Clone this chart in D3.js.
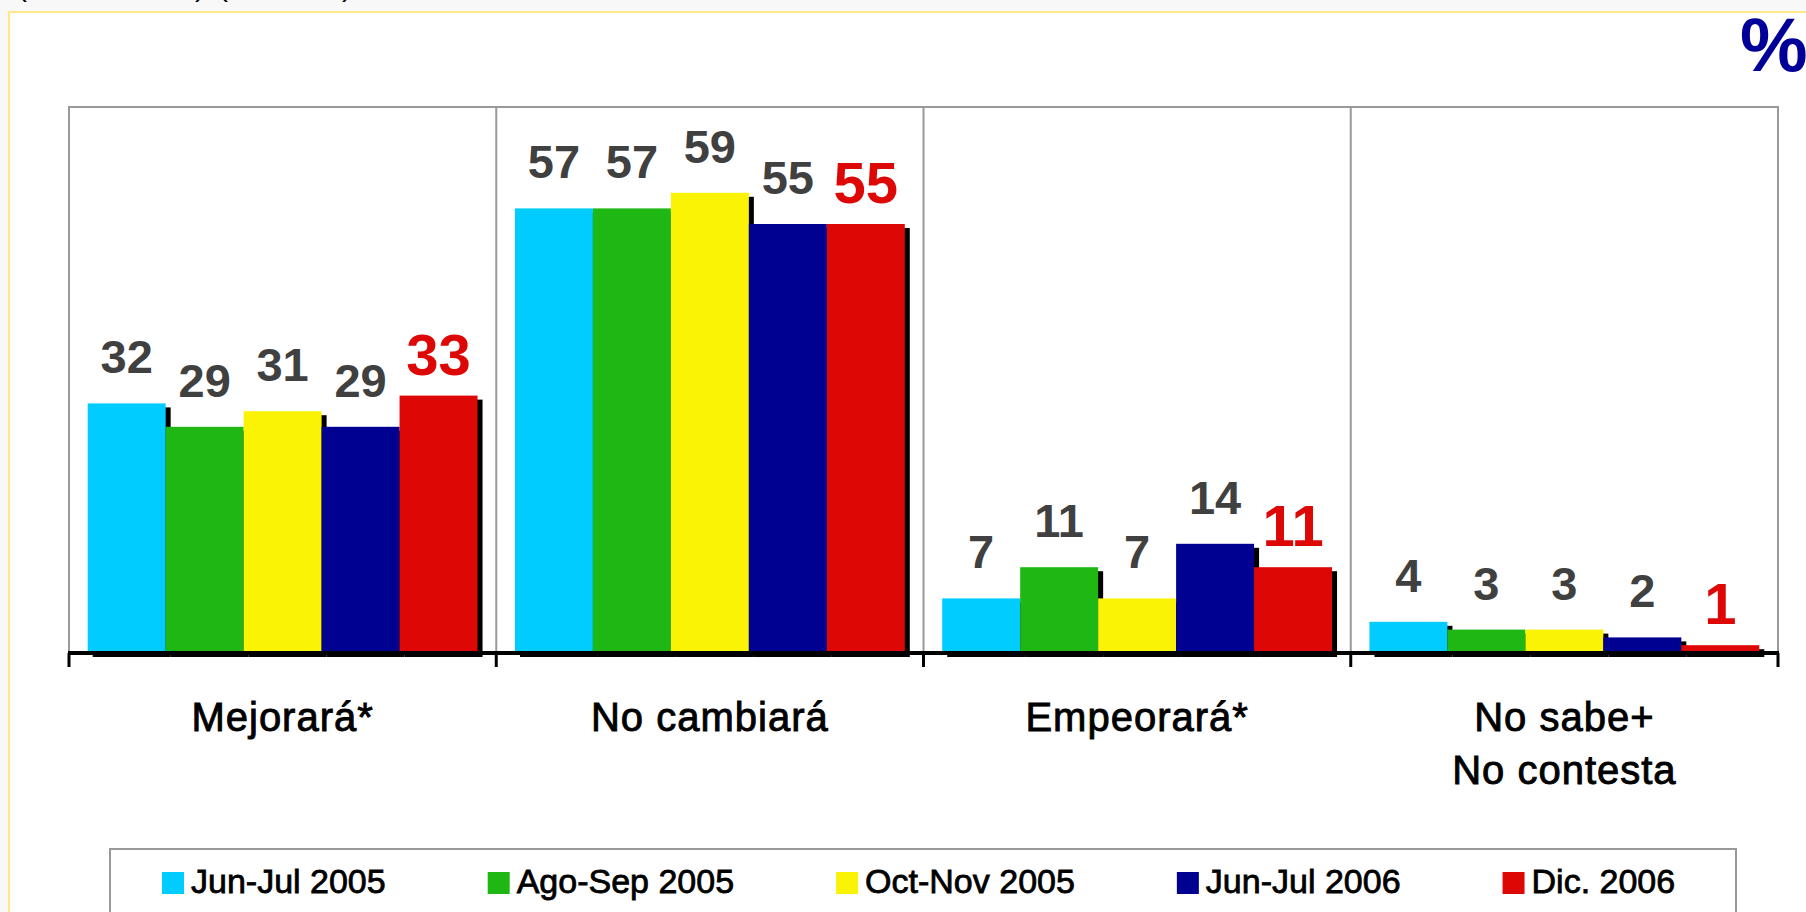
<!DOCTYPE html>
<html>
<head>
<meta charset="utf-8">
<script src="https://cdn.jsdelivr.net/npm/d3@7/dist/d3.min.js"></script>
<style>
    body { margin: 0; background: #f8f8f8; overflow: hidden; }
    svg { display: block; font-family: 'Liberation Sans', Arial, sans-serif; }
</style>
</head>
<body>
<svg width="1806" height="912"></svg>
<script>
'use strict';

// categories (multi-line labels) and the five survey waves
var categories = ['Mejorará*', 'No cambiará', 'Empeorará*', 'No sabe+\nNo contesta'];
var waves = ['Jun-Jul 2005', 'Ago-Sep 2005', 'Oct-Nov 2005', 'Jun-Jul 2006', 'Dic. 2006'];

var junJul2005 = [32, 57, 7, 4];
var agoSep2005 = [29, 57, 11, 3];
var octNov2005 = [31, 59, 7, 3];
var junJul2006 = [29, 55, 14, 2];
var dic2006 = [33, 55, 11, 1];

var seriesValues = [junJul2005, agoSep2005, octNov2005, junJul2006, dic2006];

var svg = d3.select('svg'),
    plotLeft = 69,
    plotRight = 1778,
    plotTop = 107,
    baseY = 653;

var color = d3.scaleOrdinal()
    .domain(waves)
    .range(['#00ccff', '#1fb714', '#fbf305', '#000091', '#dd0806']);

// slide background with the yellow frame
svg.append('rect')
    .attr('x', 9).attr('y', 12)
    .attr('width', 1806).attr('height', 912)
    .attr('fill', '#fff')
    .attr('stroke', '#fde98a')
    .attr('stroke-width', 2);

// bits of a cut-off line of text at the very top of the slide
svg.selectAll('.cut')
    .data(['(', ')', '(', ')'])
    .enter()
    .append('text')
    .attr('class', 'cut')
    .attr('x', function(d, i) { return [17, 195, 218, 342][i]; })
    .attr('y', -4)
    .attr('font-size', 30)
    .text(function(d) { return d; });

svg.append('text')
    .attr('x', 1740)
    .attr('y', 71)
    .attr('font-size', 76)
    .attr('font-weight', 'bold')
    .attr('fill', '#000099')
    .text('%');

var x0 = d3.scaleBand()
    .domain(categories)
    .range([plotLeft, plotRight]);

var x1 = d3.scaleBand()
    .domain(waves)
    .range([0, x0.bandwidth()])
    .paddingInner(0)
    .paddingOuter(0.24);

var y = d3.scaleLinear()
    .domain([0, 70])
    .range([baseY, plotTop]);

// frame and category dividers
svg.append('path')
    .attr('d', 'M' + plotLeft + ',' + baseY + 'V' + plotTop + 'H' + plotRight + 'V' + baseY)
    .attr('fill', 'none')
    .attr('stroke', '#999')
    .attr('stroke-width', 2);

svg.selectAll('.divider')
    .data(categories.slice(1))
    .enter()
    .append('line')
    .attr('class', 'divider')
    .attr('x1', function(d) { return x0(d); })
    .attr('x2', function(d) { return x0(d); })
    .attr('y1', plotTop)
    .attr('y2', baseY)
    .attr('stroke', '#999')
    .attr('stroke-width', 2);

var cells = [];
categories.forEach(function(cat, ci) {
    waves.forEach(function(w, wi) {
        cells.push({cat: cat, wave: w, value: seriesValues[wi][ci], last: wi === waves.length - 1});
    });
});

var groups = svg.selectAll('.group')
    .data(categories)
    .enter()
    .append('g')
    .attr('class', 'group')
    .attr('transform', function(d) { return 'translate(' + x0(d) + ',0)'; });

// drop shadows first, then the bars on top
groups.selectAll('.shadow')
    .data(function(cat) { return cells.filter(function(c) { return c.cat === cat; }); })
    .enter()
    .append('rect')
    .attr('class', 'shadow')
    .attr('x', function(d) { return x1(d.wave) + 5; })
    .attr('y', function(d) { return y(d.value) + 4; })
    .attr('width', x1.bandwidth())
    .attr('height', function(d) { return baseY - y(d.value); })
    .attr('fill', '#000');

groups.selectAll('.bar')
    .data(function(cat) { return cells.filter(function(c) { return c.cat === cat; }); })
    .enter()
    .append('rect')
    .attr('class', 'bar')
    .attr('x', function(d) { return x1(d.wave); })
    .attr('y', function(d) { return y(d.value); })
    .attr('width', x1.bandwidth())
    .attr('height', function(d) { return baseY - y(d.value); })
    .attr('fill', function(d) { return color(d.wave); });

groups.selectAll('.value')
    .data(function(cat) { return cells.filter(function(c) { return c.cat === cat; }); })
    .enter()
    .append('text')
    .attr('class', 'value')
    .attr('x', function(d) { return x1(d.wave) + x1.bandwidth() / 2; })
    .attr('y', function(d) { return y(d.value) - (d.last ? 21 : 30); })
    .attr('text-anchor', 'middle')
    .attr('font-weight', 'bold')
    .attr('font-size', function(d) { return d.last ? 58 : 47; })
    .attr('fill', function(d) { return d.last ? '#dd0806' : '#404040'; })
    .text(function(d) { return d.value; });

// x axis: thick black baseline with ticks at the category edges
svg.append('line')
    .attr('x1', plotLeft - 1).attr('x2', plotRight + 1)
    .attr('y1', baseY).attr('y2', baseY)
    .attr('stroke', '#000')
    .attr('stroke-width', 4);

svg.selectAll('.tick')
    .data(categories.concat(['end']))
    .enter()
    .append('line')
    .attr('class', 'tick')
    .attr('x1', function(d) { return d === 'end' ? plotRight : x0(d); })
    .attr('x2', function(d) { return d === 'end' ? plotRight : x0(d); })
    .attr('y1', baseY)
    .attr('y2', baseY + 14)
    .attr('stroke', '#000')
    .attr('stroke-width', 3);

svg.selectAll('.cat-label')
    .data(categories)
    .enter()
    .append('text')
    .attr('class', 'cat-label')
    .attr('text-anchor', 'middle')
    .attr('font-size', 40)
    .attr('letter-spacing', 1)
    .attr('fill', '#000')
    .attr('stroke', '#000')
    .attr('stroke-width', 0.9)
    .each(function(d) {
        var t = d3.select(this);
        d.split('\n').forEach(function(line, i) {
            t.append('tspan')
                .attr('x', x0(d) + x0.bandwidth() / 2)
                .attr('y', 731 + i * 53)
                .text(line);
        });
    });

// legend
svg.append('rect')
    .attr('x', 110).attr('y', 849)
    .attr('width', 1626).attr('height', 100)
    .attr('fill', '#fff')
    .attr('stroke', '#999')
    .attr('stroke-width', 2);

var legendX = 162;
waves.forEach(function(w) {
    var item = svg.append('g')
        .attr('class', 'legend-item')
        .attr('transform', 'translate(' + legendX + ',872)');
    item.append('rect')
        .attr('width', 22)
        .attr('height', 22)
        .attr('fill', color(w));
    var label = item.append('text')
        .attr('x', 29)
        .attr('y', 21)
        .attr('font-size', 34)
        .attr('fill', '#000')
        .attr('stroke', '#000')
        .attr('stroke-width', 0.8)
        .text(w);
    legendX += 29 + label.node().getComputedTextLength() + 102;
});
</script>
</body>
</html>
